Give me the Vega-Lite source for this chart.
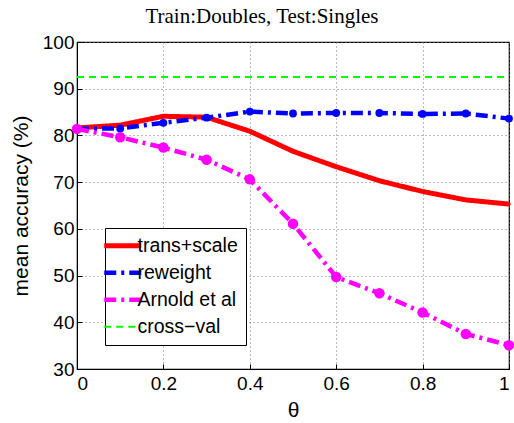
{
  "$schema": "https://vega.github.io/schema/vega-lite/v6.json",
  "width": 432,
  "height": 327,
  "autosize": {"type": "none"},
  "padding": {"top": 42, "left": 77, "right": 5, "bottom": 54},
  "background": "white",
  "title": {"text": "Train:Doubles, Test:Singles", "font": "Liberation Serif", "fontSize": 21, "fontWeight": "normal", "color": "black", "offset": 6, "dx": -31},
  "config": {
    "view": {"stroke": "black", "strokeWidth": 1.2},
    "axis": {
      "labelFont": "Liberation Sans", "labelFontSize": 19, "labelColor": "black",
      "titleFont": "Liberation Sans", "titleFontSize": 21, "titleFontWeight": "normal", "titleColor": "black",
      "domainColor": "black", "tickColor": "black", "tickSize": -5,
      "gridColor": "#777", "gridDash": [1, 3], "gridOpacity": 1
    },
    "legend": {
      "orient": "none", "legendX": 28, "legendY": 186, "title": null,
      "labelFont": "Liberation Sans", "labelFontSize": 19.5, "labelColor": "black",
      "padding": 8, "rowPadding": 6, "labelOffset": 5
    }
  },
  "data": {"values": [
    {"series": "trans+scale", "x": 0.0, "y": 81.6},
    {"series": "trans+scale", "x": 0.1, "y": 82.2},
    {"series": "trans+scale", "x": 0.2, "y": 84.1},
    {"series": "trans+scale", "x": 0.3, "y": 83.9},
    {"series": "trans+scale", "x": 0.4, "y": 80.9},
    {"series": "trans+scale", "x": 0.5, "y": 76.6},
    {"series": "trans+scale", "x": 0.6, "y": 73.3},
    {"series": "trans+scale", "x": 0.7, "y": 70.3},
    {"series": "trans+scale", "x": 0.8, "y": 68.0},
    {"series": "trans+scale", "x": 0.9, "y": 66.2},
    {"series": "trans+scale", "x": 1.0, "y": 65.3},
    {"series": "reweight", "x": 0.0, "y": 81.4},
    {"series": "reweight", "x": 0.1, "y": 81.5},
    {"series": "reweight", "x": 0.2, "y": 82.7},
    {"series": "reweight", "x": 0.3, "y": 83.8},
    {"series": "reweight", "x": 0.4, "y": 85.1},
    {"series": "reweight", "x": 0.5, "y": 84.7},
    {"series": "reweight", "x": 0.6, "y": 84.8},
    {"series": "reweight", "x": 0.7, "y": 84.8},
    {"series": "reweight", "x": 0.8, "y": 84.6},
    {"series": "reweight", "x": 0.9, "y": 84.7},
    {"series": "reweight", "x": 1.0, "y": 83.6},
    {"series": "Arnold et al", "x": 0.0, "y": 81.4},
    {"series": "Arnold et al", "x": 0.1, "y": 79.6},
    {"series": "Arnold et al", "x": 0.2, "y": 77.4},
    {"series": "Arnold et al", "x": 0.3, "y": 74.8},
    {"series": "Arnold et al", "x": 0.4, "y": 70.6},
    {"series": "Arnold et al", "x": 0.5, "y": 61.1},
    {"series": "Arnold et al", "x": 0.6, "y": 49.7},
    {"series": "Arnold et al", "x": 0.7, "y": 46.2},
    {"series": "Arnold et al", "x": 0.8, "y": 42.1},
    {"series": "Arnold et al", "x": 0.9, "y": 37.5},
    {"series": "Arnold et al", "x": 1.0, "y": 35.1},
    {"series": "cross−val", "x": 0.0, "y": 92.5},
    {"series": "cross−val", "x": 1.0, "y": 92.5}
  ]},
  "encoding": {
    "x": {"field": "x", "type": "quantitative", "scale": {"domain": [0, 1], "nice": false},
      "axis": {"values": [0, 0.2, 0.4, 0.6, 0.8, 1], "format": ".1~f", "title": "θ", "grid": true, "labelPadding": 10, "titlePadding": 6}},
    "y": {"field": "y", "type": "quantitative", "scale": {"domain": [30, 100], "nice": false},
      "axis": {"values": [30, 40, 50, 60, 70, 80, 90, 100], "title": "mean accuracy (%)", "grid": true, "labelPadding": 8, "titlePadding": 11}},
    "color": {"field": "series", "type": "nominal",
      "scale": {"domain": ["trans+scale", "reweight", "Arnold et al", "cross−val"], "range": ["#ff0000", "#0000ff", "#ff00ff", "#00ff00"]},
      "legend": {"symbolType": "stroke", "symbolSize": 1369, "symbolStrokeWidth": 4,
        "fillColor": "white", "strokeColor": "black",
        "encode": {"symbols": {"update": {"strokeWidth": {"signal": "datum.value === 'cross−val' ? 2 : datum.value === 'trans+scale' ? 5 : 4.5"}}}}}},
    "strokeDash": {"field": "series", "type": "nominal",
      "scale": {"domain": ["trans+scale", "reweight", "Arnold et al", "cross−val"], "range": [[1, 0], [12, 5, 3, 5], [12, 5, 3, 5], [7, 5]]}},
    "order": {"field": "x"}
  },
  "layer": [
    {"transform": [{"filter": "datum.series === 'trans+scale'"}], "mark": {"type": "line", "strokeCap": "butt", "strokeWidth": 5}},
    {"transform": [{"filter": "datum.series === 'reweight'"}], "mark": {"type": "line", "strokeCap": "butt", "strokeWidth": 4.5}},
    {"transform": [{"filter": "datum.series === 'Arnold et al'"}], "mark": {"type": "line", "strokeCap": "butt", "strokeWidth": 4.5}},
    {"transform": [{"filter": "datum.series === 'cross−val'"}], "mark": {"type": "line", "strokeCap": "butt", "strokeWidth": 2}},
    {
      "transform": [{"filter": "datum.series !== 'cross−val'"}],
      "mark": {"type": "point", "filled": true, "opacity": 1, "strokeWidth": 0},
      "encoding": {
        "strokeDash": null,
        "color": {"field": "series", "type": "nominal", "legend": null},
        "size": {"field": "series", "type": "nominal", "legend": null,
          "scale": {"domain": ["trans+scale", "reweight", "Arnold et al"], "range": [12, 110, 40]}}
      }
    }
  ]
}
